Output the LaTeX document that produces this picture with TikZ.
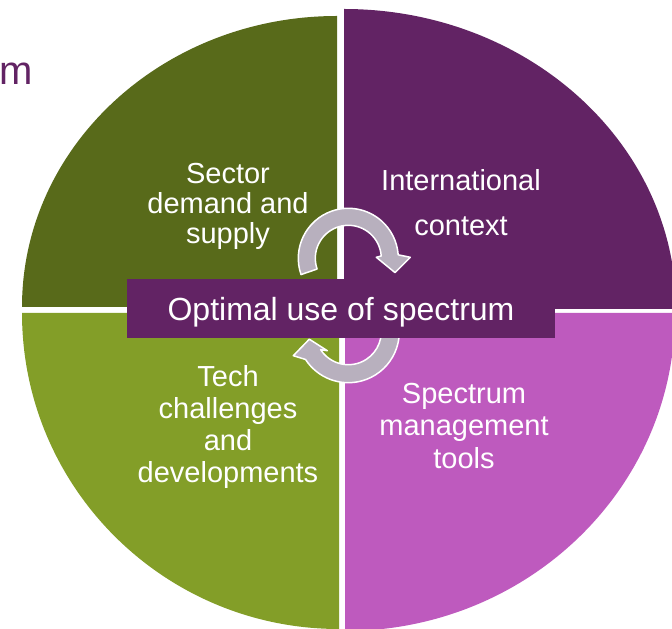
\documentclass[tikz,border=0pt]{standalone}
\usepackage{fontspec}
\setmainfont{Liberation Sans}
\definecolor{sectorgreen}{HTML}{586A1A}
\definecolor{intlpurple}{HTML}{622364}
\definecolor{techgreen}{HTML}{839E28}
\definecolor{toolpink}{HTML}{BE5ABE}
\definecolor{cyclegrey}{HTML}{B8B0BE}
\begin{document}
\begin{tikzpicture}[x=1pt, y=1pt,
    label/.style={text=white, align=center, font=\fontsize{29}{32}\selectfont},
    cyc/.style={fill=cyclegrey, draw=white, line width=1.5pt, line join=round}]
  \useasboundingbox (0,0) rectangle (672,629);
  % quadrants
  \fill[sectorgreen] (337,322) -- (22,322) arc[start angle=180, end angle=90, x radius=315, y radius=291] -- cycle;
  \fill[intlpurple] (344,320) -- (344,620) arc[start angle=90, end angle=0, x radius=332, y radius=300] -- cycle;
  \fill[techgreen] (339,316) -- (22,316) arc[start angle=180, end angle=270, x radius=317, y radius=316] -- cycle;
  \fill[toolpink] (345,316) -- (675,316) arc[start angle=0, end angle=-90, x radius=330, y radius=318] -- cycle;
  \node [anchor=base west, inner sep=0, text=intlpurple, font=\fontsize{40}{48}\selectfont] (title) at (-1,544) {m};
  \node [label] (sector) at (228,423) {Sector\\[-2pt]demand and\\[-2pt]supply};
  \node [label] (intl) at (461,426) {International\\[13pt]context};
  \node [label] (tech) at (228,201.5) {Tech\\challenges\\and\\developments};
  \node [label] (tools) at (464,203) {Spectrum\\[0.5pt]management\\[0.5pt]tools};
  % cycle arrows
  \filldraw[cyc, shift={(348.3,370.7)}] (199:50) arc[start angle=199, end angle=4, radius=50] -- (62,1) -- (46.7,-14.3) -- (28,1) -- (4:33) arc[start angle=4, end angle=199, radius=33] -- cycle;
  \filldraw[cyc, shift={(348.3,297.3)}] (15:51) arc[start angle=15, end angle=-147, radius=51] -- (-55,-24) -- (-39,-7.5) -- (-21,-19) -- (-147:33) arc[start angle=-147, end angle=15, radius=33] -- cycle;
  \node [fill=intlpurple, text=white, minimum width=428pt, minimum height=59pt, inner sep=0, text depth=0pt, font=\fontsize{32}{38}\selectfont] (core) at (341,320.5) {Optimal use of spectrum};
\end{tikzpicture}
\end{document}
